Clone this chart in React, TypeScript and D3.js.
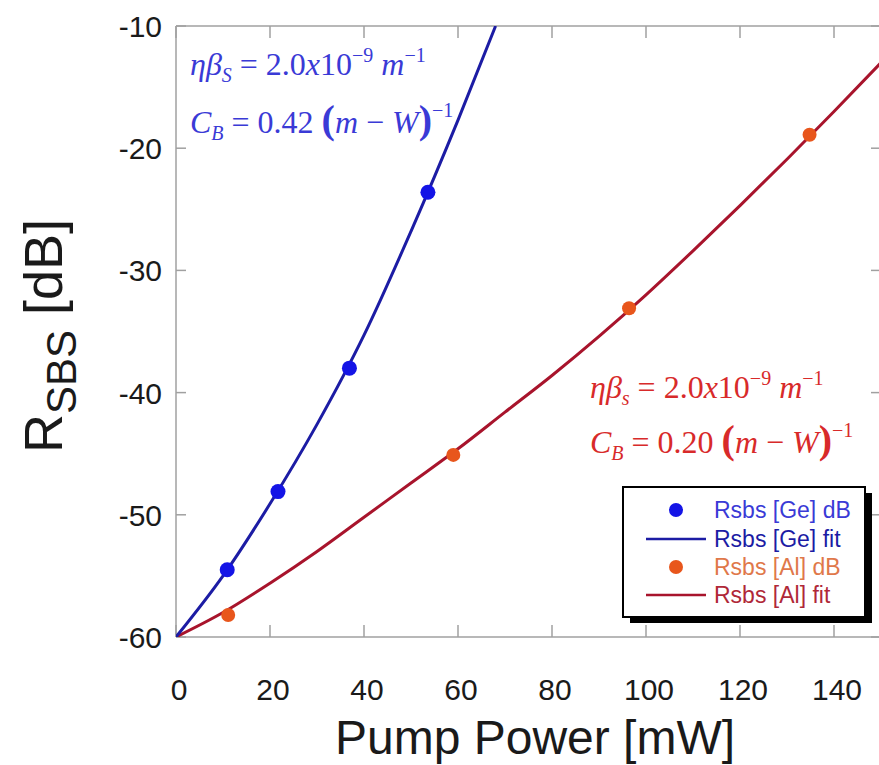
import React from "react";
import * as d3 from "d3";

// Measured points (pump power in mW, reflectivity in dB)
const geDataX = [10.9, 21.7, 36.9, 53.6];
const geDataY = [-54.5, -48.1, -38.0, -23.6];
const alDataX = [11.1, 59, 96.4, 134.8];
const alDataY = [-58.2, -45.1, -33.1, -18.9];

// Fitted curves
const geFitX = [0, 10, 20, 30, 40, 50, 60, 68];
const geFitY = [-60, -55, -49.1, -42.6, -35.3, -26.8, -17.7, -10];
const alFitX = [0, 10, 20, 30, 40, 50, 60, 70, 80, 90, 100, 110, 120, 130, 140, 150];
const alFitY = [-60, -58, -55.6, -53, -50.2, -47.4, -44.6, -41.6, -38.6, -35.4, -32.0, -28.4, -24.7, -20.9, -17.0, -13.0];

const xTicks = [0, 20, 40, 60, 80, 100, 120, 140];
const yTicks = [-60, -50, -40, -30, -20, -10];

const legendLabels = ["Rsbs [Ge] dB", "Rsbs [Ge] fit", "Rsbs [Al] dB", "Rsbs [Al] fit"];

const W = 879;
const H = 765;

const C = {
  geDot: "#1414e6",
  geLine: "#1c1ca4",
  alDot: "#e8561c",
  alLine: "#a8142c",
  geText: "#3a3ad6",
  alText: "#d82a2a",
  axis: "#a0a0a0",
};

const sans = "'Liberation Sans', Arial, Helvetica, sans-serif";
const serif = "'Liberation Serif', 'Times New Roman', serif";

export default function App() {
  const x = d3.scaleLinear().domain([0, 150]).range([176, 881]);
  const y = d3.scaleLinear().domain([-60, -10]).range([637, 26]);

  const line = d3
    .line<[number, number]>()
    .x((d) => x(d[0]))
    .y((d) => y(d[1]))
    .curve(d3.curveMonotoneX);

  const geFit = geFitX.map((v, i) => [v, geFitY[i]] as [number, number]);
  const alFit = alFitX.map((v, i) => [v, alFitY[i]] as [number, number]);

  const [x0, x1] = x.range();
  const [yb, yt] = y.range();

  const supSize = 20;

  const legend = { x: 623, y: 487, w: 242, h: 130 };
  const rowY = [510, 539, 567, 595];
  const legendColors = [C.geText, C.geLine, "#e0784a", "#b02838"];

  return (
    <svg
      width={W}
      height={H}
      style={{ position: "absolute", left: 0, top: 0, background: "#fff" }}
    >
      <defs>
        <clipPath id="plotArea">
          <rect x={x0} y={yt} width={x1 - x0} height={yb - yt} />
        </clipPath>
      </defs>

      {/* frame */}
      <g stroke={C.axis} strokeWidth={1.5} fill="none">
        <line x1={x0} y1={yt} x2={x0} y2={yb} />
        <line x1={x0} y1={yb} x2={x1} y2={yb} />
        <line x1={x0} y1={yt} x2={x1} y2={yt} />
        <line x1={x1} y1={yt} x2={x1} y2={yb} />
        {xTicks.map((t) => (
          <g key={"xt" + t}>
            <line x1={x(t)} x2={x(t)} y1={yb} y2={yb - 12} />
            <line x1={x(t)} x2={x(t)} y1={yt} y2={yt + 12} />
          </g>
        ))}
        {yTicks.map((t) => (
          <g key={"yt" + t}>
            <line x1={x0} x2={x0 + 10} y1={y(t)} y2={y(t)} />
            <line x1={x1} x2={x1 - 10} y1={y(t)} y2={y(t)} />
          </g>
        ))}
      </g>

      {/* tick labels */}
      <g fontFamily={sans} fontSize={30} fill="#1a1a1a">
        {yTicks.map((t) => (
          <text key={"yl" + t} x={162} y={y(t) + 11} textAnchor="end">
            {t}
          </text>
        ))}
        {xTicks.map((t) => (
          <text key={"xl" + t} x={x(t) + 3} y={700} textAnchor="middle">
            {t}
          </text>
        ))}
      </g>

      {/* axis titles */}
      <text x={535} y={754} textAnchor="middle" fontFamily={sans} fontSize={48} fill="#1a1a1a">
        Pump Power [mW]
      </text>
      <text
        transform="translate(62,336) rotate(-90)"
        textAnchor="middle"
        fontFamily={sans}
        fontSize={54}
        fill="#1a1a1a"
      >
        <tspan>R</tspan>
        <tspan fontSize={42} dy={14}>SBS</tspan>
        <tspan dy={-14}> [dB]</tspan>
      </text>

      {/* fits and data */}
      <g clipPath="url(#plotArea)">
        <path d={line(alFit) || ""} fill="none" stroke={C.alLine} strokeWidth={3} />
        <path d={line(geFit) || ""} fill="none" stroke={C.geLine} strokeWidth={3} />
        {geDataX.map((v, i) => (
          <circle key={"g" + i} cx={x(v)} cy={y(geDataY[i])} r={7.5} fill={C.geDot} />
        ))}
        {alDataX.map((v, i) => (
          <circle key={"a" + i} cx={x(v)} cy={y(alDataY[i])} r={7} fill={C.alDot} />
        ))}
      </g>

      {/* Ge annotation */}
      <g fontFamily={serif} fontSize={32} fill={C.geText}>
        <text x={190} y={75}>
          <tspan fontStyle="italic">ηβ</tspan>
          <tspan fontStyle="italic" fontSize={supSize} dy={7}>S</tspan>
          <tspan dy={-7}> = 2.0</tspan>
          <tspan fontStyle="italic">x</tspan>
          <tspan>10</tspan>
          <tspan fontSize={supSize} dy={-13}>−9</tspan>
          <tspan dy={13}> </tspan>
          <tspan fontStyle="italic">m</tspan>
          <tspan fontSize={supSize} dy={-13}>−1</tspan>
        </text>
        <text x={190} y={133}>
          <tspan fontStyle="italic">C</tspan>
          <tspan fontStyle="italic" fontSize={supSize} dy={7}>B</tspan>
          <tspan dy={-7}> = 0.42 </tspan>
          <tspan fontSize={40} fontWeight="bold">(</tspan>
          <tspan fontStyle="italic">m</tspan>
          <tspan> − </tspan>
          <tspan fontStyle="italic">W</tspan>
          <tspan fontSize={40} fontWeight="bold">)</tspan>
          <tspan fontSize={supSize} dy={-16}>−1</tspan>
        </text>
      </g>

      {/* Al annotation */}
      <g fontFamily={serif} fontSize={32} fill={C.alText}>
        <text x={590} y={398}>
          <tspan fontStyle="italic">ηβ</tspan>
          <tspan fontStyle="italic" fontSize={supSize} dy={7}>s</tspan>
          <tspan dy={-7}> = 2.0</tspan>
          <tspan fontStyle="italic">x</tspan>
          <tspan>10</tspan>
          <tspan fontSize={supSize} dy={-13}>−9</tspan>
          <tspan dy={13}> </tspan>
          <tspan fontStyle="italic">m</tspan>
          <tspan fontSize={supSize} dy={-13}>−1</tspan>
        </text>
        <text x={590} y={453}>
          <tspan fontStyle="italic">C</tspan>
          <tspan fontStyle="italic" fontSize={supSize} dy={7}>B</tspan>
          <tspan dy={-7}> = 0.20 </tspan>
          <tspan fontSize={40} fontWeight="bold">(</tspan>
          <tspan fontStyle="italic">m</tspan>
          <tspan> − </tspan>
          <tspan fontStyle="italic">W</tspan>
          <tspan fontSize={40} fontWeight="bold">)</tspan>
          <tspan fontSize={supSize} dy={-16}>−1</tspan>
        </text>
      </g>

      {/* legend */}
      <g>
        <rect x={legend.x + 7} y={legend.y + 6} width={legend.w} height={legend.h} fill="#000" />
        <rect
          x={legend.x}
          y={legend.y}
          width={legend.w}
          height={legend.h}
          fill="#fff"
          stroke="#000"
          strokeWidth={2}
        />
        <circle cx={676} cy={rowY[0]} r={7} fill={C.geDot} />
        <line x1={646} x2={706} y1={rowY[1]} y2={rowY[1]} stroke={C.geLine} strokeWidth={2.5} />
        <circle cx={676} cy={rowY[2]} r={7} fill={C.alDot} />
        <line x1={646} x2={706} y1={rowY[3]} y2={rowY[3]} stroke={C.alLine} strokeWidth={2.5} />
        {legendLabels.map((s, i) => (
          <text
            key={s}
            x={714}
            y={rowY[i] + 8}
            fontFamily={sans}
            fontSize={23}
            fill={legendColors[i]}
          >
            {s}
          </text>
        ))}
      </g>
    </svg>
  );
}
